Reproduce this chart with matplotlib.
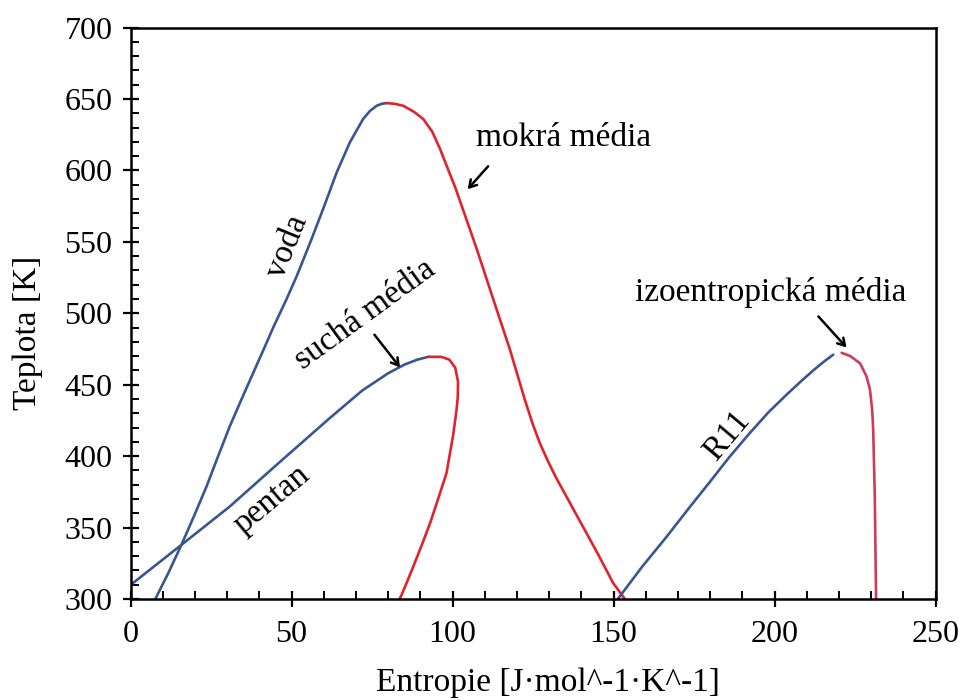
import matplotlib
matplotlib.use("Agg")
import matplotlib.pyplot as plt
from matplotlib.ticker import MultipleLocator

plt.rcParams['font.family'] = ['Liberation Serif', 'DejaVu Serif']

# Water (voda) - saturated liquid (blue) and vapour (red)
voda_liq_s = [7.7, 11.8, 15.8, 19.7, 23.6, 27.2, 30.8, 34.5, 38.1, 41.2, 44.3, 48.4, 51.6,
              55.7, 59.8, 64.0, 68.1, 72.2, 74.3, 76.4, 78.0, 79.5]
voda_liq_T = [300, 318.5, 337.9, 358, 378.8, 400, 420.8, 440, 458.3, 474, 490, 509.7, 526,
              549, 573, 598.5, 619.6, 635.9, 641.5, 645.2, 646.6, 647.1]
voda_vap_s = [79.5, 82.0, 84.7, 88.0, 90.9, 93.7, 96.1, 101.0, 107.5, 112.6, 117.8, 122.5,
              124.8, 127.1, 129.5, 132.0, 134.3, 141.0, 145.0, 149.9, 153.5]
voda_vap_T = [647.1, 646.6, 645.2, 641, 635.9, 627, 615, 587, 545, 510, 474.6, 439,
              423, 409, 397, 385.5, 376, 348.5, 332, 311, 300]

# Pentane (suchá média)
pentan_liq_s = [0, 15.8, 30.8, 46.4, 61.9, 72, 80, 85, 89, 92.5]
pentan_liq_T = [309.8, 337.9, 364.7, 396, 426.7, 446, 458, 464, 467.5, 469.5]
pentan_vap_s = [92.5, 96.5, 99, 100.8, 101.7, 101.6, 101.2, 100.2, 98.1, 95.5, 93, 90.3,
                87.8, 85.5, 84, 83.5]
pentan_vap_T = [469.5, 469.5, 467.5, 462, 452, 441, 432, 415, 388, 370, 353, 337,
                322.7, 310, 302, 300]

# R11 (izoentropická média)
r11_liq_s = [151.3, 159, 166.5, 173, 179.9, 186, 192.3, 198, 203.7, 208, 212, 215.5, 218.2]
r11_liq_T = [300, 323, 343.7, 362.5, 382, 399.5, 416.2, 430.5, 443, 452, 460, 466.5, 471]
r11_vap_s = [220.8, 223.5, 226.5, 228.5, 229.6, 230.3, 230.6, 231.1, 231.3, 231.5]
r11_vap_T = [472.3, 470, 465, 456, 446.6, 432, 418.5, 371.7, 335, 300]

x_ticks = [0, 50, 100, 150, 200, 250]
y_ticks = [300, 350, 400, 450, 500, 550, 600, 650, 700]

BLUE = '#3a5690'
RED = '#e2222c'
RED2 = '#cf3a5a'

fig = plt.figure(figsize=(9.67, 7.0), dpi=100)
ax = fig.add_axes([0.135, 0.1443, 0.8326, 0.8164])

lw = 1.9
kw = dict(lw=lw, solid_joinstyle='round', solid_capstyle='round')
ax.plot(voda_liq_s, voda_liq_T, color=BLUE, **kw)
ax.plot(voda_vap_s, voda_vap_T, color=RED, **kw)
ax.plot(pentan_liq_s, pentan_liq_T, color=BLUE, **kw)
ax.plot(pentan_vap_s, pentan_vap_T, color=RED, **kw)
ax.plot(r11_liq_s, r11_liq_T, color=BLUE, **kw)
ax.plot(r11_vap_s, r11_vap_T, color=RED2, **kw)

ax.set_xlim(0, 250)
ax.set_ylim(300, 700)
ax.set_xticks(x_ticks)
ax.set_yticks(y_ticks)
ax.xaxis.set_minor_locator(MultipleLocator(10))
ax.yaxis.set_minor_locator(MultipleLocator(10))
ax.tick_params(which='major', direction='inout', length=12, width=1.6, labelsize=23, colors='black')
ax.tick_params(axis='x', which='major', pad=9)
ax.tick_params(axis='y', which='major', pad=7)
ax.tick_params(which='minor', direction='in', length=6, width=1.4)
for sp in ax.spines.values():
    sp.set_linewidth(1.8)

xl = ax.set_xlabel('Entropie [J·mol^-1·K^-1]', fontsize=24)
yl = ax.set_ylabel('Teplota [K]', fontsize=24)
ax.xaxis.set_label_coords(0.518, -0.147)
xl.set_va('center')
ax.yaxis.set_label_coords(-0.1276, 0.465)
yl.set_va('center')

fs = 24
ax.text(48.7, 546.8, 'voda', rotation=68, fontsize=fs, ha='center', va='center')
ax.text(73, 499, 'suchá média', rotation=36, fontsize=fs, ha='center', va='center')
ax.text(43.8, 369.4, 'pentan', rotation=40, fontsize=fs, ha='center', va='center')
ax.text(185.3, 414.3, 'R11', rotation=50, fontsize=fs, ha='center', va='center')
ax.text(134.4, 623, 'mokrá média', fontsize=fs, ha='center', va='center')
ax.text(198.7, 514.6, 'izoentropická média', fontsize=fs, ha='center', va='center')

arrow = dict(arrowstyle='->,head_length=0.5,head_width=0.3', color='black', lw=1.8)
ax.annotate('', xy=(104.1, 585.4), xytext=(111.6, 604.3), arrowprops=arrow)
ax.annotate('', xy=(84.2, 460.6), xytext=(75.2, 486.5), arrowprops=arrow)
ax.annotate('', xy=(222.9, 474.6), xytext=(213, 499.2), arrowprops=arrow)

fig.savefig('out.png', dpi=100)
